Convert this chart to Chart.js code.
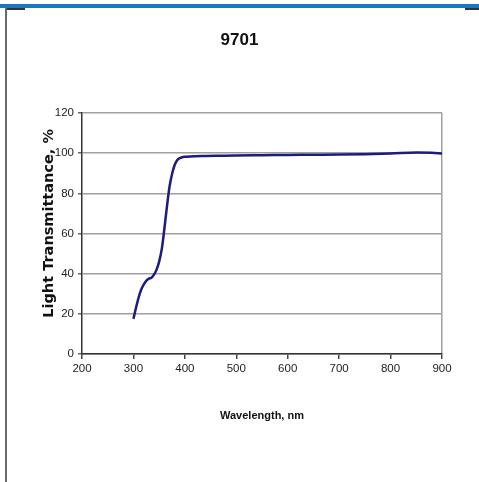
<!DOCTYPE html>
<html>
<head>
<meta charset="utf-8">
<script src="https://cdn.jsdelivr.net/npm/chart.js@4/dist/chart.umd.min.js"></script>
<style>
  html, body { margin: 0; padding: 0; background: #fff; }
  #wrap { position: relative; width: 479px; height: 482px; overflow: hidden; }
  #c { position: absolute; left: 0; top: 0; }
  .deco { position: absolute; }
</style>
</head>
<body>
<div id="wrap">
  <canvas id="c" width="479" height="482"></canvas>
  <div class="deco" style="left:0;top:4px;width:479px;height:4px;background:#1877bd;"></div>
  <div class="deco" style="left:5px;top:7px;width:2px;height:475px;background:#6a6a6a;"></div>
  <div class="deco" style="left:7px;top:8px;width:18px;height:2px;background:#2a3440;"></div>
  <div class="deco" style="left:465px;top:8px;width:14px;height:2px;background:#2a3440;"></div>
</div>
<script>
const chartTitle = '9701';
const xAxisTitle = 'Wavelength, nm';
const yAxisTitle = '    Light Transmittance, %';
const xTicks = [200, 300, 400, 500, 600, 700, 800, 900];
const yTicks = [0, 20, 40, 60, 80, 100, 120];
const wavelengths = [300, 305, 310, 315, 320, 325, 330, 335, 340, 345, 350, 355, 360, 365, 370, 375, 380, 385, 390, 395, 400, 410, 420, 440, 460, 500, 550, 600, 650, 700, 750, 800, 850, 880, 900];
const transmittance = [17.5, 23, 28, 32, 34.5, 36.5, 37.5, 38, 39.5, 42, 46, 52, 62, 73, 83, 89.5, 94, 96.5, 97.5, 98, 98.2, 98.4, 98.5, 98.6, 98.7, 98.9, 99, 99.1, 99.2, 99.3, 99.5, 99.8, 100.3, 100.2, 99.8];

const narrow = "'Liberation Sans Narrow', 'Liberation Sans', Arial, sans-serif";
const points = wavelengths.map((w, i) => ({ x: w, y: transmittance[i] }));

new Chart(document.getElementById('c'), {
  type: 'line',
  data: {
    datasets: [{
      data: points,
      borderColor: '#1c1c7c',
      borderWidth: 2.5,
      pointRadius: 0,
      fill: false,
      cubicInterpolationMode: 'monotone',
      yAxisID: 'y'
    }]
  },
  options: {
    responsive: false,
    animation: false,
    devicePixelRatio: 1,
    layout: { padding: { left: 0, right: 0, top: 0, bottom: 0 } },
    plugins: {
      legend: { display: false },
      tooltip: { enabled: false },
      title: {
        display: true,
        text: chartTitle,
        color: '#111',
        font: { family: narrow, size: 17, weight: 'bold', lineHeight: 1.2 },
        padding: { top: 29.8, bottom: 62.8 }
      }
    },
    scales: {
      x: {
        type: 'linear',
        min: xTicks[0],
        max: xTicks[xTicks.length - 1],
        afterBuildTicks: s => { s.ticks = xTicks.map(v => ({ value: v })); },
        afterFit: s => { s.height = 128; },
        grid: {
          color: ctx => (ctx.tick && ctx.tick.value === 900) ? '#a0a0a0' : 'rgba(0,0,0,0)',
          lineWidth: 1.5,
          tickColor: '#444',
          tickLength: 5,
          drawTicks: true
        },
        border: { display: true, color: '#333', width: 1.5 },
        ticks: { color: '#222', font: { family: narrow, size: 11.5 }, padding: 3, maxRotation: 0 },
        title: {
          display: true,
          text: xAxisTitle,
          color: '#111',
          font: { family: narrow, size: 11, weight: 'bold', lineHeight: 1.1 },
          padding: { top: 0, bottom: 60 }
        }
      },
      y: {
        type: 'linear',
        position: 'left',
        min: yTicks[0],
        max: yTicks[yTicks.length - 1],
        afterBuildTicks: s => { s.ticks = yTicks.map(v => ({ value: v })); },
        afterFit: s => { s.width = 82; },
        grid: {
          color: '#a0a0a0',
          lineWidth: 1.5,
          tickColor: '#666',
          tickLength: 4
        },
        border: { display: true, color: '#333', width: 1.5 },
        ticks: { color: '#222', font: { family: narrow, size: 11.5 }, padding: 4 },
        title: {
          display: true,
          text: yAxisTitle,
          color: '#111',
          font: { family: "'DejaVu Sans', sans-serif", size: 14.5, weight: 'bold', lineHeight: 1.2 },
          padding: { top: 41, bottom: 0 }
        }
      },
      yR: {
        type: 'linear',
        position: 'right',
        display: true,
        min: 0,
        max: 120,
        afterFit: s => { s.width = 37; },
        grid: { display: false, drawTicks: false },
        border: { display: false },
        ticks: { display: false }
      }
    }
  }
});
</script>
</body>
</html>
